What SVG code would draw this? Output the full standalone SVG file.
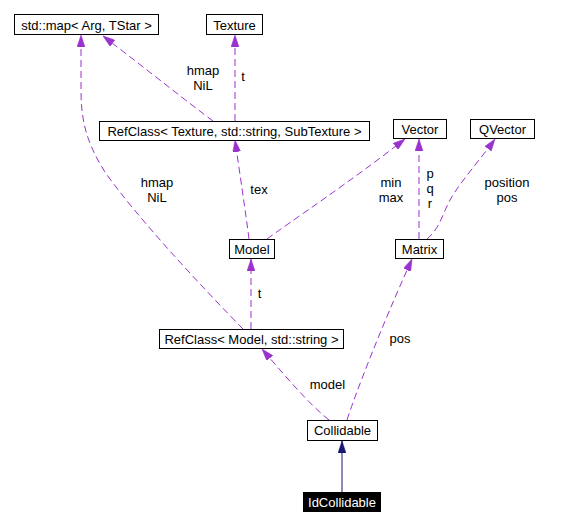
<svg xmlns="http://www.w3.org/2000/svg" width="572" height="526" viewBox="0 0 572 526">
<style>
.box{fill:#fff;stroke:#000;stroke-width:1}
.t{font-family:"Liberation Sans",Arial,sans-serif;font-size:13px;fill:#000;text-anchor:middle}
.e{fill:none;stroke:#9a32cd;stroke-width:1;stroke-dasharray:7,4;marker-end:url(#pa)}
</style>
<defs>
<marker id="pa" markerUnits="userSpaceOnUse" markerWidth="12" markerHeight="8" refX="12" refY="4" orient="auto">
<path d="M0,0 L12,4 L0,8 z" fill="#9a32cd" stroke="#9a32cd" stroke-width="0.5"/>
</marker>
<marker id="na" markerUnits="userSpaceOnUse" markerWidth="12" markerHeight="8" refX="12" refY="4" orient="auto">
<path d="M0,0 L12,4 L0,8 z" fill="#191970" stroke="#191970" stroke-width="0.5"/>
</marker>
</defs>
<rect width="572" height="526" fill="#fff"/>
<g id="connectors">
<path class="e" d="M213,121 C190,104 150,72 103,36"/>
<path class="e" d="M243,329 C200,285 135,215 105,172 C86,142 81,120 81,90 L81,35"/>
<path class="e" d="M235,121 L235,35"/>
<path class="e" d="M249,239 C246,215 240,175 235,140"/>
<path class="e" d="M267,239 C290,222 350,182 405,139"/>
<path class="e" d="M419,239 L419,139"/>
<path class="e" d="M427,239 C440,228 442,215 450,200 C460,182 480,160 495,139"/>
<path class="e" d="M251,329 L251,259"/>
<path class="e" d="M329,420 C310,405 285,376 262,349"/>
<path class="e" d="M347,420 C355,395 380,330 412,259"/>
<path d="M342,492 L342,441" fill="none" stroke="#191970" stroke-width="1" marker-end="url(#na)"/>
<text class="t" x="203" y="75">hmap</text>
<text class="t" x="203" y="90">NiL</text>
<text class="t" x="243" y="81">t</text>
<text class="t" x="157" y="187">hmap</text>
<text class="t" x="157" y="202">NiL</text>
<text class="t" x="259" y="194">tex</text>
<text class="t" x="391" y="187">min</text>
<text class="t" x="391" y="202">max</text>
<text class="t" x="430" y="178">p</text>
<text class="t" x="430" y="193">q</text>
<text class="t" x="430" y="208">r</text>
<text class="t" x="507" y="187">position</text>
<text class="t" x="507" y="202">pos</text>
<text class="t" x="259.5" y="298">t</text>
<text class="t" x="400" y="343">pos</text>
<text class="t" x="327.5" y="389">model</text>
</g>
<g id="stdmap"><rect class="box" x="14.5" y="14.5" width="144" height="20"/><text class="t" x="86.5" y="29.5">std::map&lt; Arg, TStar &gt;</text></g>
<g id="texture"><rect class="box" x="206.5" y="14.5" width="56" height="20"/><text class="t" x="234.5" y="29.5">Texture</text></g>
<g id="refclass_texture"><rect class="box" x="99.5" y="121.5" width="270" height="19"/><text class="t" x="234.5" y="136">RefClass&lt; Texture, std::string, SubTexture &gt;</text></g>
<g id="vector"><rect class="box" x="393.5" y="119.5" width="53" height="19"/><text class="t" x="420" y="134">Vector</text></g>
<g id="qvector"><rect class="box" x="470.5" y="119.5" width="64" height="19"/><text class="t" x="502.5" y="134">QVector</text></g>
<g id="model"><rect class="box" x="229.5" y="239.5" width="45" height="19"/><text class="t" x="252" y="254">Model</text></g>
<g id="matrix"><rect class="box" x="395.5" y="239.5" width="48" height="19"/><text class="t" x="419.5" y="254">Matrix</text></g>
<g id="refclass_model"><rect class="box" x="159.5" y="329.5" width="184" height="19"/><text class="t" x="251.5" y="344">RefClass&lt; Model, std::string &gt;</text></g>
<g id="collidable"><rect class="box" x="307.5" y="420.5" width="70" height="20"/><text class="t" x="342.5" y="435">Collidable</text></g>
<g id="idcollidable"><rect x="303" y="492" width="78" height="20" fill="#000"/><text class="t" x="342" y="507" style="fill:#fff">IdCollidable</text></g>
</svg>
